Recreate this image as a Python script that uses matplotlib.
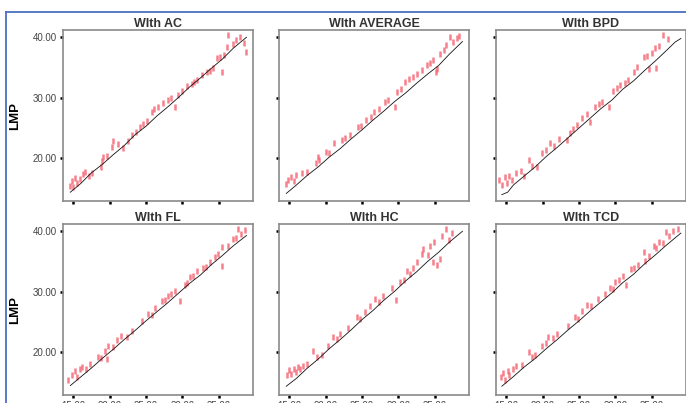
import matplotlib.pyplot as plt
from matplotlib.lines import Line2D

# estimated GA (x) vs LMP (y), one panel per biometric parameter
titles = ["WIth AC", "WIth AVERAGE", "WIth BPD", "WIth FL", "WIth HC", "WIth TCD"]

ac_x = [14.6, 14.8, 15.0, 15.3, 15.5, 15.9, 16.3, 16.6, 17.2, 17.6, 18.8, 18.9, 19.1,
        19.6, 20.3, 20.4, 21.2, 21.9, 22.5, 23.1, 23.6, 24.2, 24.6, 25.2, 25.8, 26.1,
        26.7, 27.3, 28.0, 28.5, 29.0, 29.4, 29.9, 30.6, 31.3, 31.6, 32.0, 32.7, 33.4,
        33.8, 34.2, 34.7, 35.1, 35.4, 35.7, 36.1, 36.3, 36.9, 37.4, 37.9, 38.5, 38.8]
ac_y = [15.5, 16.2, 15.3, 16.8, 16.0, 16.6, 17.4, 17.7, 17.0, 17.6, 18.6, 19.5, 20.2,
        20.4, 21.8, 22.9, 22.3, 21.7, 22.9, 23.8, 24.3, 25.1, 25.6, 26.2, 27.6, 28.1,
        28.4, 29.1, 29.6, 30.0, 28.4, 30.4, 31.2, 31.9, 32.3, 32.6, 32.9, 33.7, 34.2,
        34.5, 35.0, 36.5, 36.8, 34.3, 37.1, 38.4, 40.3, 38.9, 39.5, 40.1, 39.1, 37.5]

avg_x = [14.6, 14.9, 15.2, 15.6, 16.0, 16.7, 17.5, 18.7, 18.9, 19.1, 20.1, 20.5, 21.2,
         22.2, 22.7, 23.3, 24.4, 24.9, 25.6, 26.3, 26.7, 27.4, 28.1, 28.6, 29.5, 29.8,
         30.4, 30.9, 31.5, 32.0, 32.5, 33.2, 33.9, 34.3, 34.7, 35.1, 35.3, 35.7, 36.2,
         36.6, 37.1, 37.5, 38.0, 38.3]
avg_y = [15.8, 16.5, 16.9, 16.2, 17.2, 17.5, 17.8, 19.3, 20.2, 19.7, 21.0, 20.8, 22.5,
         23.0, 23.4, 23.8, 25.1, 25.4, 26.3, 26.8, 27.6, 28.1, 29.3, 29.6, 28.4, 30.9,
         31.5, 32.6, 33.1, 33.4, 34.0, 34.6, 35.4, 35.8, 36.2, 34.2, 34.8, 37.3, 37.9,
         38.7, 40.1, 39.3, 39.9, 40.2]

bpd_x = [14.0, 14.4, 14.8, 15.1, 15.4, 15.8, 16.4, 17.0, 17.5, 18.2, 18.6, 19.2, 19.9,
         20.4, 21.0, 21.6, 22.3, 23.3, 23.7, 24.2, 24.7, 25.4, 26.1, 26.5, 27.2, 27.7,
         28.2, 29.1, 29.7, 30.2, 30.7, 31.3, 31.8, 32.5, 33.0, 33.9, 34.4, 34.6, 35.0,
         35.4, 35.6, 36.0, 36.5, 37.2]
bpd_y = [16.5, 15.6, 16.9, 16.0, 17.1, 16.4, 17.5, 17.9, 17.0, 19.7, 18.8, 18.5, 20.8,
         21.3, 22.5, 22.1, 23.2, 23.0, 24.2, 24.9, 25.5, 26.6, 27.4, 26.0, 28.4, 28.9,
         29.3, 28.4, 31.2, 31.6, 32.1, 32.4, 32.9, 34.2, 35.1, 36.7, 36.9, 34.8, 37.4,
         38.2, 35.0, 38.6, 40.3, 39.7]

fl_x = [14.3, 14.8, 15.2, 15.5, 15.9, 16.2, 16.7, 17.3, 18.4, 18.8, 19.4, 19.6, 19.8,
        20.4, 21.0, 21.6, 22.4, 23.1, 24.5, 25.3, 25.8, 26.2, 27.2, 27.6, 28.0, 28.5,
        29.0, 29.7, 30.3, 30.7, 31.0, 31.5, 32.0, 32.8, 33.3, 33.8, 34.5, 34.9, 35.4,
        35.5, 36.2, 36.9, 37.3, 37.6, 38.1, 38.6]
fl_y = [15.5, 16.3, 16.9, 16.0, 17.2, 17.5, 17.3, 18.0, 19.3, 19.0, 20.2, 18.9, 21.0,
        20.9, 22.1, 22.7, 22.6, 23.5, 25.1, 26.3, 26.2, 27.4, 28.4, 28.7, 29.3, 29.6,
        30.1, 28.5, 31.2, 31.4, 32.4, 32.6, 33.4, 33.9, 34.1, 34.9, 35.7, 36.2, 37.4,
        34.3, 37.5, 38.7, 38.9, 40.3, 39.6, 40.2]

hc_x = [14.7, 15.0, 15.3, 15.6, 15.9, 16.2, 16.5, 16.9, 17.5, 18.3, 18.8, 19.5, 20.3,
        21.0, 21.5, 22.0, 23.1, 24.3, 24.7, 25.4, 26.1, 26.8, 27.4, 27.9, 29.1, 29.7,
        30.2, 30.8, 31.2, 31.6, 32.0, 32.5, 33.2, 33.4, 34.0, 34.3, 34.7, 34.9, 35.3,
        35.7, 36.0, 36.6, 37.0, 37.3]
hc_y = [16.3, 17.0, 16.5, 17.2, 16.8, 17.5, 17.2, 17.7, 18.0, 20.2, 19.3, 19.6, 21.0,
        22.6, 22.2, 23.0, 24.1, 25.8, 25.5, 26.6, 27.6, 28.8, 28.3, 29.3, 30.7, 28.6,
        31.7, 32.0, 33.4, 33.0, 33.9, 35.0, 36.2, 37.0, 36.1, 37.5, 34.9, 38.2, 34.4,
        35.4, 39.2, 40.3, 38.6, 39.7]

tcd_x = [14.3, 14.6, 14.9, 15.2, 15.4, 16.0, 16.4, 17.2, 18.2, 18.5, 18.9, 19.9, 20.4,
         20.7, 21.4, 22.0, 23.5, 24.4, 24.8, 25.4, 26.1, 26.7, 27.6, 28.6, 29.3, 29.7,
         30.0, 30.5, 31.1, 31.4, 32.1, 32.6, 33.1, 33.9, 34.0, 34.6, 35.3, 35.6, 36.0,
         36.5, 36.9, 37.4, 37.9, 38.6]
tcd_y = [15.9, 16.6, 15.5, 16.9, 16.3, 17.2, 17.7, 17.9, 20.0, 19.2, 19.6, 21.0, 21.6,
         22.6, 22.4, 23.0, 24.3, 25.8, 25.5, 26.8, 27.9, 27.6, 28.8, 29.6, 30.7, 30.4,
         31.6, 31.9, 32.6, 31.2, 33.7, 33.9, 34.5, 36.5, 35.1, 35.9, 37.5, 37.2, 38.3,
         38.0, 39.8, 39.2, 40.0, 40.3]

# fitted lines
fit_x = [14.6, 16, 17.5, 19, 20.5, 22, 23.5, 25, 26.5, 28, 29.5, 31, 32.5, 34, 35.5, 37, 38.8]
ac_fit = [14.4, 15.8, 17.6, 19.0, 20.6, 22.1, 23.9, 25.3, 27.0, 28.5, 30.1, 31.8, 33.3,
          34.9, 36.4, 38.2, 40.0]
avg_fit = [14.2, 15.6, 17.2, 18.6, 20.2, 21.6, 23.2, 24.7, 26.3, 27.8, 29.4, 30.8, 32.4,
           33.9, 35.3, 37.2, 39.3]
bpd_fit_x = [14.4, 15.2, 16, 17.5, 19, 20.5, 22, 23.5, 25, 26.5, 28, 29.5, 31, 32.5, 34,
             35.5, 37, 38.2, 39.0]
bpd_fit = [14.0, 14.4, 15.6, 17.1, 18.6, 20.3, 21.8, 23.4, 25.0, 26.6, 28.2, 29.6, 31.4,
           32.8, 34.5, 36.1, 37.8, 39.2, 39.8]
fl_fit = [14.5, 15.9, 17.4, 19.0, 20.5, 22.1, 23.6, 25.2, 26.7, 28.2, 29.8, 31.4, 32.8,
          34.5, 36.0, 37.6, 39.3]
hc_fit = [14.4, 15.7, 17.4, 18.9, 20.6, 22.1, 23.7, 25.4, 26.9, 28.6, 30.1, 31.8, 33.3,
          35.0, 36.5, 38.2, 40.0]
tcd_fit_x = [14.4, 16, 17.5, 19, 20.5, 22, 23.5, 25, 26.5, 28, 29.5, 31, 32.5, 34, 35.5, 37, 39.0]
tcd_fit = [14.4, 16.0, 17.6, 19.0, 20.6, 22.1, 23.7, 25.2, 26.8, 28.3, 29.8, 31.5, 32.9,
           34.6, 36.1, 37.7, 39.7]

xticks = [15, 20, 25, 30, 35]
yticks = [20, 30, 40]


def main():
    plt.rcParams['font.family'] = ['Liberation Sans', 'DejaVu Sans']
    fig = plt.figure(figsize=(6.86, 4.03), dpi=100)

    panels = [
        (ac_x, ac_y, fit_x, ac_fit),
        (avg_x, avg_y, fit_x, avg_fit),
        (bpd_x, bpd_y, bpd_fit_x, bpd_fit),
        (fl_x, fl_y, fit_x, fl_fit),
        (hc_x, hc_y, fit_x, hc_fit),
        (tcd_x, tcd_y, tcd_fit_x, tcd_fit),
    ]
    lefts = [63, 279, 496]
    bottoms = [201, 395]
    W, H = 686.0, 403.0

    for i, (px, py, lx, ly) in enumerate(panels):
        row, col = divmod(i, 3)
        ax = fig.add_axes([lefts[col] / W, (H - bottoms[row]) / H, 190 / W, 171 / H])
        ax.plot(px, py, linestyle='none', marker='|', markersize=4.5, mew=1.8,
                color='#f36b78', alpha=0.85)
        ax.plot(lx, ly, color='#111111', lw=0.6)
        ax.set_xlim(13.6, 39.7)
        ax.set_ylim(12.95, 41.2)
        ax.set_xticks(xticks)
        ax.set_yticks(yticks)
        ax.tick_params(direction='out', length=2.5, width=1.8, color='black',
                       labelsize=7, labelcolor='#444444', pad=2)
        if col == 0:
            ax.set_yticklabels(['%.2f' % v for v in yticks])
            ax.set_ylabel('LMP', fontsize=9.5, fontweight='bold', labelpad=8)
        else:
            ax.set_yticklabels([])
        if row == 1:
            ax.set_xticklabels(['%.2f' % v for v in xticks])
        else:
            ax.set_xticklabels([])
        for s in ax.spines.values():
            s.set_color('#8a8a8a')
            s.set_linewidth(1.2)
        ax.set_title(titles[i], fontsize=9, fontweight='bold', color='#333333', pad=2)

    # blue frame of the source page
    fig.add_artist(Line2D([6 / W, 6 / W], [0, 1 - 12 / H], color='#4a70c0', lw=1.3))
    fig.add_artist(Line2D([6 / W, 1], [1 - 12 / H, 1 - 12 / H], color='#4a70c0', lw=1.3))

    fig.savefig('out.png', dpi=100)


if __name__ == "__main__":
    main()
